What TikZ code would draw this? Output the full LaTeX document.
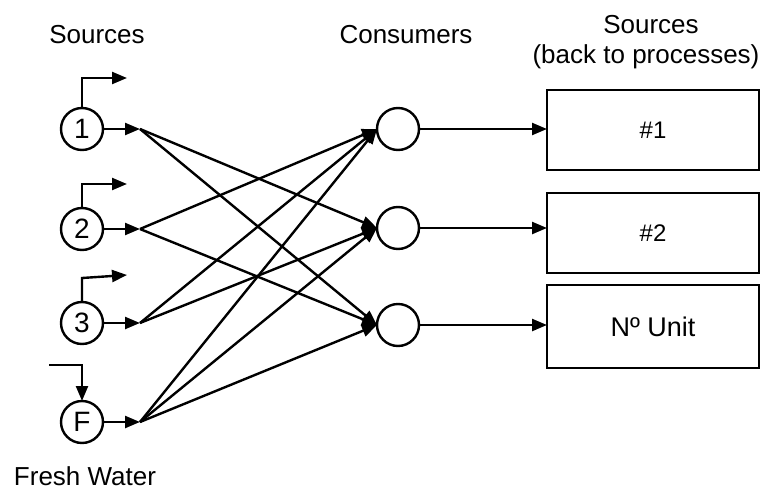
\documentclass[tikz,border=0pt]{standalone}
\usepackage{fontspec}
\setmainfont{Liberation Sans}
\usetikzlibrary{arrows.meta}
\begin{document}
\begin{tikzpicture}[x=1pt,y=-1pt,
  every node/.style={inner sep=0pt,outer sep=0pt},
  lbl/.style={font=\fontsize{26}{30}\selectfont,anchor=base},
  unitcirc/.style={circle,draw,line width=2.4pt,minimum size=42pt,font=\fontsize{28}{32}\selectfont},
  unitbox/.style={rectangle,draw,line width=2.4pt,minimum width=212pt},
  arr/.style={line width=2.4pt,-{Triangle[length=15pt,width=12pt]}}]
\useasboundingbox (0,0) rectangle (764,493);
% titles
\node[lbl] (tsrc) at (97,43) {Sources};
\node[lbl] (tcons) at (406,43) {Consumers};
\node[lbl] (tsrc2) at (651,33) {Sources};
\node[lbl] (tback) at (646,63) {(back to processes)};
\node[lbl] (tfresh) at (85,485) {Fresh Water};
% source circles
\node[unitcirc] (s1) at (82,129) {1};
\node[unitcirc] (s2) at (82,229) {2};
\node[unitcirc] (s3) at (82,323) {3};
\node[unitcirc] (sf) at (82,422) {F};
% consumer circles
\node[unitcirc] (c1) at (398,129) {};
\node[unitcirc] (c2) at (398,228) {};
\node[unitcirc] (c3) at (398,325) {};
% boxes
\node[unitbox,minimum height=80pt,font=\fontsize{24}{28}\selectfont] (b1) at (653,130) {\#1};
\node[unitbox,minimum height=80pt,font=\fontsize{24}{28}\selectfont] (b2) at (653,233) {\#2};
\node[unitbox,minimum height=83pt,font=\fontsize{27}{30}\selectfont] (b3) at (653,326.5) {Nº Unit};
% fan points
\coordinate (p1) at (140,129);
\coordinate (p2) at (140,229);
\coordinate (p3) at (140,323);
\coordinate (pf) at (140,422);
\draw[arr] (s1.east) -- (p1);
\draw[arr] (s2.east) -- (p2);
\draw[arr] (s3.east) -- (p3);
\draw[arr] (sf.east) -- (pf);
% upward outlets
\coordinate (u1) at (127,78);
\coordinate (u2) at (127,184);
\coordinate (u3) at (127,275);
\coordinate (fw) at (49,365);
\draw[arr] (s1.north) |- (u1);
\draw[arr] (s2.north) |- (u2);
\draw[arr] (s3.north) -- ++(0,-24) -- (u3);
\draw[arr] (fw) -| (sf.north);
% fan connections
\draw[arr] (p1) -- (c2.west);
\draw[arr] (p1) -- (c3.west);
\draw[arr] (p2) -- (c1.west);
\draw[arr] (p2) -- (c3.west);
\draw[arr] (p3) -- (c1.west);
\draw[arr] (p3) -- (c2.west);
\draw[arr] (pf) -- (c1.west);
\draw[arr] (pf) -- (c2.west);
\draw[arr] (pf) -- (c3.west);
% consumer outputs
\draw[arr] (c1.east) -- (c1.east -| b1.west);
\draw[arr] (c2.east) -- (c2.east -| b2.west);
\draw[arr] (c3.east) -- (c3.east -| b3.west);
\end{tikzpicture}
\end{document}
